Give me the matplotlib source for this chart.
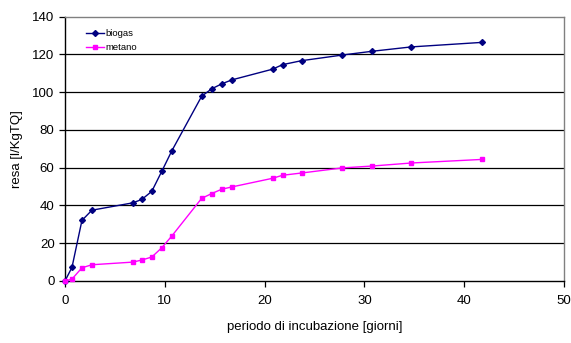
import matplotlib
matplotlib.use("Agg")
import matplotlib.pyplot as plt
from matplotlib.lines import Line2D

plt.rcParams['font.family'] = ['Liberation Sans', 'DejaVu Sans']

# incubation days
giorni = [0, 0.7, 1.7, 2.7, 6.8, 7.7, 8.7, 9.7, 10.7, 13.7, 14.7, 15.7, 16.7,
          20.8, 21.8, 23.7, 27.8, 30.8, 34.7, 41.8]
# cumulative yields [l/KgTQ]
biogas = [0, 7.2, 32.1, 37.5, 41.4, 43.2, 47.5, 58.1, 68.9, 97.9, 101.8, 104.4,
          106.5, 112.2, 114.6, 116.7, 119.7, 121.7, 124.0, 126.4]
metano = [0, 1.0, 7.0, 8.6, 10.0, 11.1, 12.7, 17.6, 23.8, 43.8, 46.3, 48.6,
          49.8, 54.4, 56.0, 57.2, 59.9, 60.9, 62.5, 64.4]

x_ticks = [0, 10, 20, 30, 40, 50]
y_ticks = [0, 20, 40, 60, 80, 100, 120, 140]

fig = plt.figure(figsize=(5.71, 3.43), dpi=100)
ax = fig.add_axes([0.1138, 0.1808, 0.8739, 0.7705])

for yv in y_ticks[1:-1]:
    ax.axhline(yv, color='black', lw=0.9, zorder=1)

ax.plot(giorni, biogas, color='#000080', lw=1.0, marker='D', ms=3.0,
        mfc='#000080', mec='#000080', zorder=3, clip_on=False)
ax.plot(giorni, metano, color='#FF00FF', lw=1.0, marker='s', ms=3.4,
        mfc='#FF00FF', mec='#FF00FF', zorder=3, clip_on=False)

ax.set_xlim(0, 50)
ax.set_ylim(0, 140)
ax.set_xticks(x_ticks)
ax.set_yticks(y_ticks)
ax.tick_params(axis='both', direction='out', length=4, width=0.9,
               labelsize=9.5, colors='black')
ax.tick_params(axis='x', pad=6)

for side in ('top', 'right'):
    ax.spines[side].set_color('#808080')
    ax.spines[side].set_linewidth(1.0)
for side in ('left', 'bottom'):
    ax.spines[side].set_color('black')
    ax.spines[side].set_linewidth(1.0)

ax.set_xlabel('periodo di incubazione [giorni]', fontsize=9.5, labelpad=10)
ax.set_ylabel('resa [l/KgTQ]', fontsize=9.5, labelpad=7)

handles = [
    Line2D([], [], color='#000080', lw=1.0, marker='D', ms=3.0),
    Line2D([], [], color='#FF00FF', lw=1.0, marker='s', ms=3.4),
]
leg = ax.legend(handles, ['biogas', 'metano'], loc='upper left',
                bbox_to_anchor=(0.025, 0.985), frameon=False, fontsize=6.8,
                handlelength=1.9, handletextpad=0.2, labelspacing=0.5)

fig.savefig('out.png', dpi=100)
